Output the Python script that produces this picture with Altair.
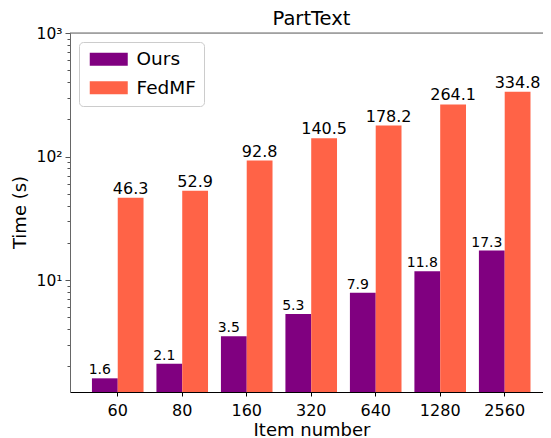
import altair as alt
import pandas as pd

items = ["60", "80", "160", "320", "640", "1280", "2560"]
ours = [1.6, 2.1, 3.5, 5.3, 7.9, 11.8, 17.3]
fedmf = [46.3, 52.9, 92.8, 140.5, 178.2, 264.1, 334.8]
methods = ["Ours", "FedMF"]
colors = ["#800080", "#FF6347"]
major_ticks = [10, 100, 1000]
minor_ticks = [2, 3, 4, 5, 6, 7, 8, 9, 20, 30, 40, 50, 60, 70, 80, 90,
               200, 300, 400, 500, 600, 700, 800, 900]
Y_MIN, Y_MAX = 1.24, 1000

rows = []
for i, it in enumerate(items):
    rows.append({"item": it, "method": "Ours", "time": ours[i], "label": f"{ours[i]:.1f}"})
    rows.append({"item": it, "method": "FedMF", "time": fedmf[i], "label": f"{fedmf[i]:.1f}"})
df = pd.DataFrame(rows)

W, H = 473, 359
FONT = "DejaVu Sans"

x_enc = alt.X(
    "item:N", sort=items, title="Item number",
    scale=alt.Scale(paddingInner=0.2, paddingOuter=0.267, align=0.637),
    axis=alt.Axis(
        labelAngle=0, labelFontSize=16, labelFont=FONT, labelColor="black",
        labelPadding=6, tickSize=4, tickColor="black", domainColor="black",
        titleFontSize=18, titleFont=FONT, titleFontWeight="normal", titleColor="black",
        titleBaseline="alphabetic", titleY=43, titleX=241.5, grid=False,
    ),
)
xo_enc = alt.XOffset("method:N", sort=methods,
                     scale=alt.Scale(domain=methods, paddingInner=0, paddingOuter=0))
y_enc = alt.Y(
    "time:Q", title="Time (s)",
    scale=alt.Scale(type="log", domain=[Y_MIN, Y_MAX], nice=False),
    axis=alt.Axis(
        values=major_ticks + minor_ticks,
        labelExpr="datum.value == 10 ? '10\u00b9' : datum.value == 100 ? '10\u00b2' : datum.value == 1000 ? '10\u00b3' : ''",
        labelOverlap=False, labelFontSize=15.5, labelFont=FONT, labelColor="black",
        labelPadding=3, labelBaseline="middle",
        tickSize={"condition": {"test": "indexof([10,100,1000], datum.value) >= 0", "value": 5}, "value": 3},
        tickColor="#555555", domainColor="#666666", grid=False,
        titleFontSize=18, titleFont=FONT, titleFontWeight="normal", titleColor="black",
        titleAngle=270, titleBaseline="alphabetic", titleAlign="center",
        titleX=-45, titleY=179,
    ),
)

base = alt.Chart(df)

bars = base.mark_bar().encode(
    x=x_enc, xOffset=xo_enc, y=y_enc, y2=alt.datum(Y_MIN),
    color=alt.Color(
        "method:N", sort=methods,
        scale=alt.Scale(domain=methods, range=colors),
        legend=alt.Legend(
            title=None, orient="none", legendX=9, legendY=9,
            symbolType="M-1,-1H4.846V1H-1Z", symbolSize=169,
            symbolStrokeWidth=0, symbolOpacity=1,
            labelFontSize=18.5, labelFont=FONT, labelColor="black",
            labelOffset=31, padding=8, rowPadding=9.5,
            strokeColor="#cccccc", cornerRadius=4, fillColor="white",
        ),
    ),
)

text_ours = base.transform_filter("datum.method == 'Ours'").mark_text(
    fontSize=14, font=FONT, color="black", dx=-5, dy=-4, baseline="alphabetic"
).encode(x=x_enc, xOffset=xo_enc, y=y_enc, text="label:N")

text_fed = base.transform_filter("datum.method == 'FedMF'").mark_text(
    fontSize=16, font=FONT, color="black", dy=-4, baseline="alphabetic"
).encode(x=x_enc, xOffset=xo_enc, y=y_enc, text="label:N")

top_line = alt.Chart(alt.Data(values=[{}])).mark_rule(color="#666666", strokeWidth=1).encode(
    x=alt.value(0), x2=alt.value(W), y=alt.value(0)
)

chart = alt.layer(top_line, bars, text_ours, text_fed).properties(
    width=W, height=H,
    title=alt.TitleParams("PartText", fontSize=19.5, font=FONT, fontWeight="normal",
                          color="black", anchor="middle", baseline="alphabetic",
                          offset=-18.3, dx=5),
    autosize=alt.AutoSizeParams(type="none"),
    padding={"left": 62, "top": 25, "right": 0, "bottom": 46},
).configure_view(stroke=None).configure(background="white")

chart.save("out.html", embed_options={"renderer": "svg", "actions": False})
